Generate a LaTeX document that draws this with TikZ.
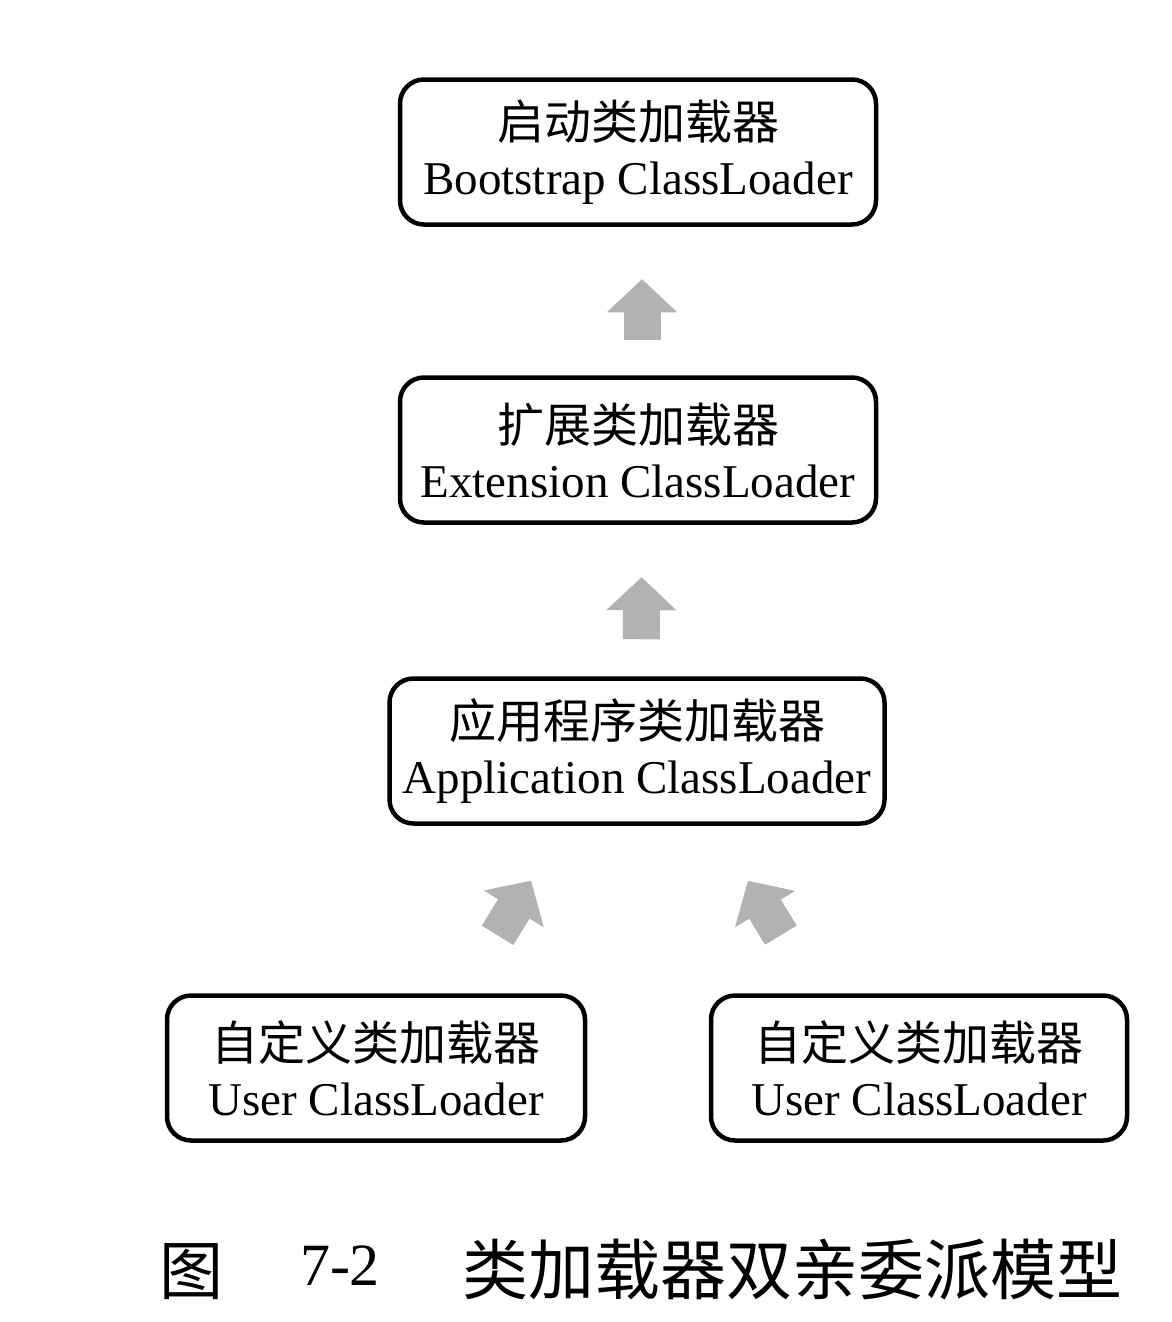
\documentclass[tikz,border=0pt]{standalone}
\usepackage{fontspec}
\setmainfont{Liberation Serif}
\newfontfamily\cjk{Noto Sans CJK SC}
\usetikzlibrary{arrows.meta}

\begin{document}
\begin{tikzpicture}[
  loader/.style={draw, line width=4.5pt, rounded corners=24pt,
    minimum height=145pt, inner sep=0pt, align=center,
    font=\fontsize{47}{55}\selectfont},
  bigarrow/.style={draw=black!30, line width=37pt,
    -{Triangle[width=70pt,length=33pt,line width=1pt,sep=-1.5pt]}},
  caption/.style={inner sep=0pt, anchor=base}
]

\useasboundingbox (0pt,0pt) rectangle (1172pt,-1322pt);

  %% loaders
  \node[loader, minimum width=476pt] (boot) at (638pt,-152pt)
  {{\cjk 启动类加载器}\\Bootstrap ClassLoader};
  \node[loader, minimum width=476pt] (ext) at (638pt,-450pt)
  {{\cjk 扩展类加载器}\\Extension ClassLoader};
  \node[loader, minimum width=495pt] (app) at (637pt,-751pt)
  {{\cjk 应用程序类加载器}\\Application ClassLoader};
  \node[loader, minimum width=418pt] (userL) at (376pt,-1068pt)
  {{\cjk 自定义类加载器}\\User ClassLoader};
  \node[loader, minimum width=416pt] (userR) at (919pt,-1068pt)
  {{\cjk 自定义类加载器}\\User ClassLoader};

  %% delegation to parent
  \draw[bigarrow, shorten <=35pt, shorten >=54pt]
  ([xshift=4pt]ext.north) -- ([xshift=4pt]boot.south);
  \draw[bigarrow, shorten <=37pt, shorten >=54pt]
  ([xshift=4pt]app.north) -- ([xshift=4pt]ext.south);
  \draw[bigarrow, shorten <=68pt, shorten >=66pt] (userL.41) -- (app.226);
  \draw[bigarrow, shorten <=68pt, shorten >=66pt] (userR.144) -- (app.316);

  %% caption
  \node[caption, font=\cjk\fontsize{64}{64}\selectfont] (capfig) at (191pt,-1294pt) {图};
  \node[caption, font=\fontsize{60}{60}\selectfont] (capnum) at (340pt,-1285pt) {7-2};
  \node[caption, font=\cjk\fontsize{66}{66}\selectfont] (captext) at (792pt,-1294pt)
  {类加载器双亲委派模型};

\end{tikzpicture}
\end{document}
